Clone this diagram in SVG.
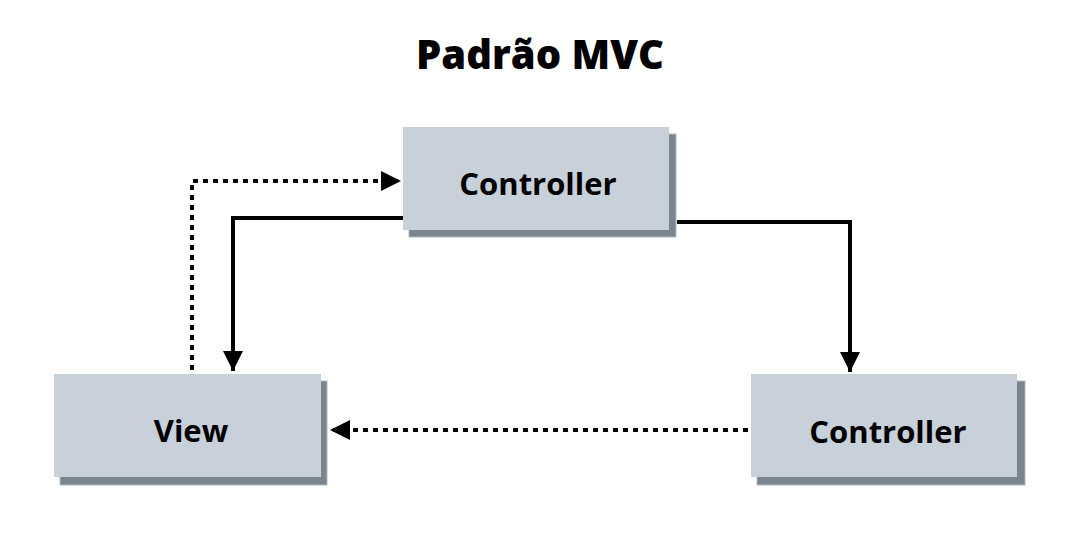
<svg xmlns="http://www.w3.org/2000/svg" width="1080" height="540" viewBox="0 0 1080 540">
  <style>
    .box { fill: #C8D0DA; }
    .shadow { fill: #7A858F; stroke: #AEB7C0; stroke-width: 1; }
    .label { font-family: "Open Sans", "Liberation Sans", sans-serif; font-weight: 700; font-size: 31px; fill: #000; text-anchor: middle; }
    .title { font-family: "Open Sans", "Liberation Sans", sans-serif; font-weight: 800; font-size: 40px; fill: #000; text-anchor: middle; }
    .solid { fill: none; stroke: #000; stroke-width: 4; }
    .dotted { fill: none; stroke: #000; stroke-width: 4; stroke-dasharray: 5 5; }
  </style>
  <defs>
    <marker id="arrow" viewBox="0 0 10 10" refX="10" refY="5" markerWidth="5" markerHeight="5" markerUnits="strokeWidth" orient="auto">
      <path d="M0,0 L10,5 L0,10 Z" fill="#000"/>
    </marker>
  </defs>
  <rect width="1080" height="540" fill="#fff"/>
  <text class="title" x="540" y="69">Padrão MVC</text>

  <g id="connectors">
    <polyline class="solid" points="404,218 233,218 233,371" marker-end="url(#arrow)"/>
    <polyline class="solid" points="677,222 850,222 850,372" marker-end="url(#arrow)"/>
    <polyline class="dotted" points="192,370 192,181 401,181" marker-end="url(#arrow)"/>
    <polyline class="dotted" points="748,430 330,430" marker-end="url(#arrow)"/>
  </g>

  <g id="node-controller-top">
    <rect class="shadow" x="409" y="134" width="267" height="103"/>
    <rect class="box" x="403" y="127" width="266" height="103"/>
    <text class="label" x="538" y="195">Controller</text>
  </g>
  <g id="node-view">
    <rect class="shadow" x="60" y="381" width="267" height="104"/>
    <rect class="box" x="54" y="374" width="267" height="103"/>
    <text class="label" x="191" y="442">View</text>
  </g>
  <g id="node-controller-bottom">
    <rect class="shadow" x="757" y="381" width="268" height="104"/>
    <rect class="box" x="751" y="374" width="266" height="103"/>
    <text class="label" x="888" y="443">Controller</text>
  </g>
</svg>
